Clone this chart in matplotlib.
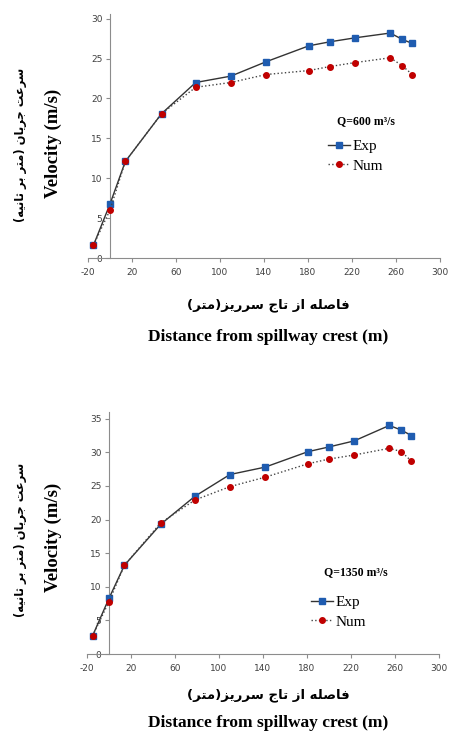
import matplotlib
matplotlib.use("Agg")
import matplotlib.pyplot as plt

plt.rcParams['axes.unicode_minus'] = False

# ---- data ----
dist = [-15, 0, 14, 47, 78, 110, 142, 181, 200, 223, 255, 266, 275]

exp_600 = [1.6, 6.75, 12.1, 18.1, 22.0, 22.8, 24.6, 26.6, 27.1, 27.6, 28.2, 27.4, 26.9]
num_600 = [1.6, 6.0, 12.1, 18.1, 21.4, 22.0, 23.0, 23.5, 24.0, 24.5, 25.1, 24.1, 23.0]

exp_1350 = [2.7, 8.3, 13.2, 19.3, 23.45, 26.7, 27.8, 30.1, 30.8, 31.7, 34.0, 33.3, 32.5]
num_1350 = [2.7, 7.8, 13.2, 19.5, 22.9, 24.9, 26.3, 28.3, 29.0, 29.6, 30.6, 30.1, 28.7]

xticks = [-20, 20, 60, 100, 140, 180, 220, 260, 300]

fa_ylabel = "سرعت جریان (متر بر ثانیه)"
fa_xlabel = "فاصله از تاج سرریز(متر)"

# matplotlib has no arabic shaping -> pick presentation forms by hand
FORMS = {  # isolated, final, initial, medial
    'ا': ('\uFE8D', '\uFE8E', None, None),
    'ب': ('\uFE8F', '\uFE90', '\uFE91', '\uFE92'),
    'ت': ('\uFE95', '\uFE96', '\uFE97', '\uFE98'),
    'ث': ('\uFE99', '\uFE9A', '\uFE9B', '\uFE9C'),
    'ج': ('\uFE9D', '\uFE9E', '\uFE9F', '\uFEA0'),
    'ر': ('\uFEAD', '\uFEAE', None, None),
    'ز': ('\uFEAF', '\uFEB0', None, None),
    'س': ('\uFEB1', '\uFEB2', '\uFEB3', '\uFEB4'),
    'ص': ('\uFEB9', '\uFEBA', '\uFEBB', '\uFEBC'),
    'ع': ('\uFEC9', '\uFECA', '\uFECB', '\uFECC'),
    'ف': ('\uFED1', '\uFED2', '\uFED3', '\uFED4'),
    'ل': ('\uFEDD', '\uFEDE', '\uFEDF', '\uFEE0'),
    'م': ('\uFEE1', '\uFEE2', '\uFEE3', '\uFEE4'),
    'ن': ('\uFEE5', '\uFEE6', '\uFEE7', '\uFEE8'),
    'ه': ('\uFEE9', '\uFEEA', '\uFEEB', '\uFEEC'),
    'ی': ('\uFBFC', '\uFBFD', '\uFBFE', '\uFBFF'),
}


def rtl(s):
    out = []
    for i, ch in enumerate(s):
        if ch not in FORMS:
            out.append(ch)
            continue
        prev = s[i-1] if i > 0 else ''
        nxt = s[i+1] if i < len(s)-1 else ''
        jp = prev in FORMS and FORMS[prev][2] is not None
        jn = FORMS[ch][2] is not None and nxt in FORMS
        iso, fin, ini, med = FORMS[ch]
        if jp and jn:
            out.append(med)
        elif jp:
            out.append(fin)
        elif jn:
            out.append(ini)
        else:
            out.append(iso)
    vis = ''.join(reversed(out))
    return vis.translate(str.maketrans('()', ')('))


serif = 'Liberation Serif'
tickfont = dict(family=['Liberation Sans Narrow', 'DejaVu Sans'], size=6.5)

fig = plt.figure(figsize=(4.51, 7.31), dpi=100)


def panel(rect, exp, num, ytop, ystep, qtext, qpos, legpos):
    ax = fig.add_axes(rect)
    ax.plot(dist, exp, '-', color='#333333', lw=1.0, marker='s', ms=4,
            mfc='#1f5cb0', mec='#1f5cb0', label='Exp', zorder=3)
    ax.plot(dist, num, ':', color='#444444', lw=1.0, marker='o', ms=4,
            mfc='#c00000', mec='#c00000', label='Num', zorder=4)
    ax.set_xlim(-20, 300)
    ax.set_ylim(0, ytop)
    ax.set_xticks(xticks)
    ax.set_yticks(range(0, int(ytop) + 1, ystep))
    ax.spines['top'].set_visible(False)
    ax.spines['right'].set_visible(False)
    ax.spines['left'].set_position(('data', 0))
    for sp in ('left', 'bottom'):
        ax.spines[sp].set_color('#8c8c8c')
        ax.spines[sp].set_linewidth(0.8)
    ax.tick_params(axis='both', colors='#8c8c8c', length=3, width=0.8,
                   labelcolor='#404040')
    ax.tick_params(axis='x', pad=4)
    ax.tick_params(axis='y', pad=2.5)
    for lab in ax.get_xticklabels() + ax.get_yticklabels():
        lab.set_fontfamily(tickfont['family'])
        lab.set_fontsize(tickfont['size'])
    ax.text(qpos[0], qpos[1], qtext, transform=ax.transAxes, ha='center',
            va='center', fontfamily=serif, fontweight='bold', fontsize=8.5)
    ax.legend(loc='center left', bbox_to_anchor=legpos, frameon=False,
              prop=dict(family=serif, size=11), handlelength=1.4,
              handletextpad=0.2, labelspacing=0.4, borderaxespad=0,
              borderpad=0)
    return ax


panel([0.195, 0.647, 0.780, 0.334], exp_600, num_600, 30.6, 5,
      'Q=600 m³/s', (0.789, 0.561), (0.683, 0.418))
panel([0.193, 0.1053, 0.780, 0.3311], exp_1350, num_1350, 36, 5,
      'Q=1350 m³/s', (0.763, 0.339), (0.637, 0.174))

# y labels
for yc_v, yc_f in [(143, 145), (537, 540)]:
    fig.text(53 / 451, 1 - yc_v / 731, 'Velocity (m/s)', rotation=90,
             ha='center', va='center', fontfamily=serif, fontweight='bold',
             fontsize=13.5)
    fig.text(21 / 451, 1 - yc_f / 731, rtl(fa_ylabel), rotation=90,
             ha='center', va='center', family=['DejaVu Sans'],
             fontsize=8.3, fontweight='bold')

# x labels
for yc_f, yc_e in [(305, 337), (695, 723)]:
    fig.text(268 / 451, 1 - yc_f / 731, rtl(fa_xlabel), ha='center',
             va='center', family=['DejaVu Sans'], fontsize=9.5,
             fontweight='bold')
    fig.text(268 / 451, 1 - yc_e / 731, 'Distance from spillway crest (m)',
             ha='center', va='center', fontfamily=serif, fontweight='bold',
             fontsize=12.5)

fig.savefig('out.png', dpi=100)
